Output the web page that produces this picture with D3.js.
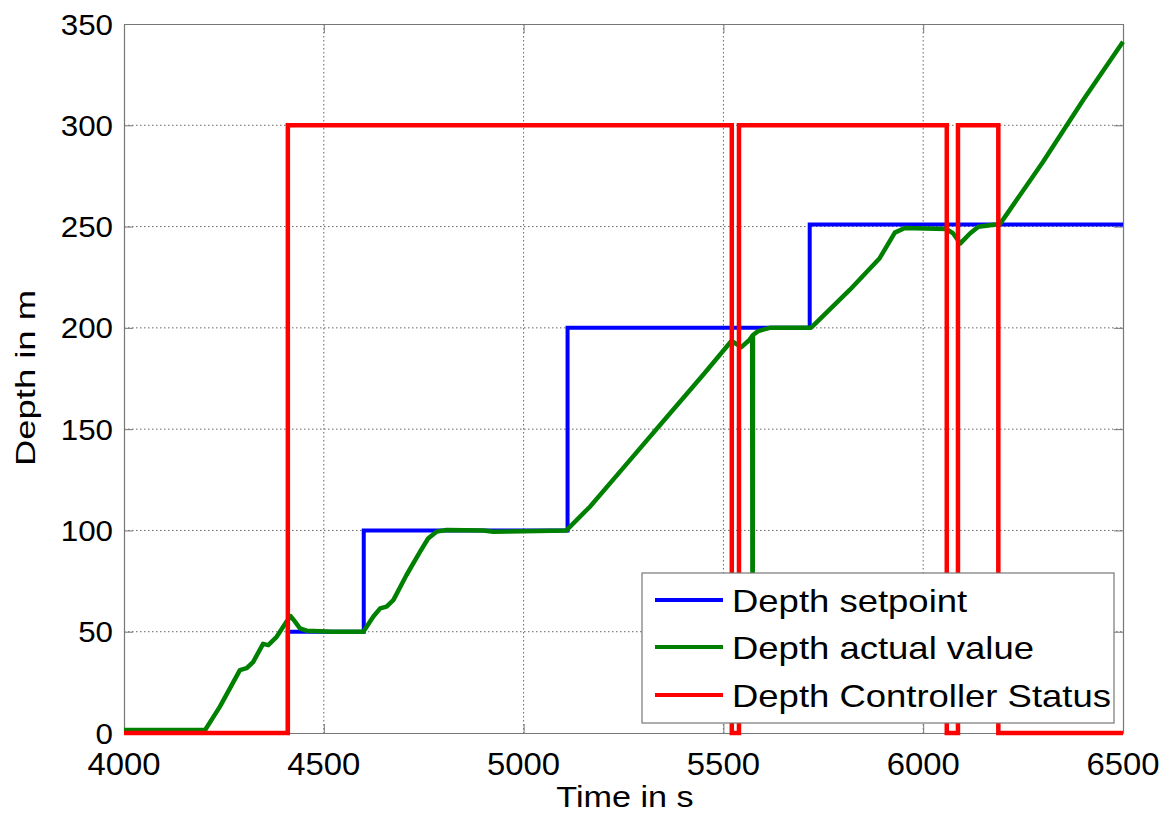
<!DOCTYPE html>
<html>
<head>
<meta charset="utf-8">
<script src="https://cdn.jsdelivr.net/npm/d3@7"></script>
<style>
  body { margin: 0; background: #fff; }
  text { font-family: "Liberation Sans", Arial, sans-serif; fill: #000; }
</style>
</head>
<body>
<svg id="chart" width="1172" height="814"></svg>
<script>
// Axis ticks
const xTicks = [4000, 4500, 5000, 5500, 6000, 6500];
const yTicks = [0, 50, 100, 150, 200, 250, 300, 350];

// Depth setpoint (step signal)
const setpointTime  = [4000, 4410, 4600, 5110, 5716, 6500];
const setpointDepth = [0, 50, 100, 200, 251, 251];

// Depth actual value
const actualTime  = [4000, 4203, 4240, 4290, 4307, 4323, 4348, 4361, 4382, 4407, 4417, 4428, 4440, 4457, 4520, 4560, 4599,
                     4624, 4641, 4657, 4674, 4707, 4741, 4761, 4782, 4807, 4900, 4924, 4960, 5107, 5166, 5250, 5350, 5450,
                     5520, 5529, 5545, 5565, 5572, 5573, 5574, 5587, 5616, 5716, 5721, 5816, 5891, 5929, 5954, 6058,
                     6075, 6093, 6117, 6138, 6167, 6192, 6300, 6400, 6500];
const actualDepth = [1.5, 1.5, 13, 31, 32, 35, 44, 43.4, 47.5, 55, 57.7, 55, 51.7, 50.5, 50, 50, 50,
                     57.5, 61.5, 62.4, 65.6, 78, 89.5, 96, 99.4, 100.2, 100, 99.4, 99.5, 100, 111.7, 131, 154, 177,
                     193.5, 192.5, 190.5, 194, 196, 10, 196.5, 198.4, 200, 200, 200.4, 218.7, 234.4, 247, 249.3, 248.8,
                     246.6, 241.7, 246.6, 249.9, 250.7, 251.2, 282, 312.4, 341.2];

// Depth controller status (on = 300, off = 0)
const statusTime  = [4000, 4410, 5521, 5539, 6059, 6087, 6188, 6500];
const statusValue = [0, 300, 0, 300, 0, 300, 0, 0];

const seriesNames = ["Depth setpoint", "Depth actual value", "Depth Controller Status"];
const seriesColors = ["#0000ff", "#008000", "#ff0000"];

const svg = d3.select("#chart");
const plot = { left: 124, right: 1123, top: 24, bottom: 733 };

const x = d3.scaleLinear().domain([4000, 6500]).range([plot.left, plot.right]);
const y = d3.scaleLinear().domain([0, 350]).range([plot.bottom, plot.top]);

svg.append("defs").append("clipPath").attr("id", "plotClip")
  .append("rect")
  .attr("x", plot.left).attr("y", plot.top - 3)
  .attr("width", plot.right - plot.left + 3).attr("height", plot.bottom - plot.top + 6);

// Grid
const grid = svg.append("g");
grid.selectAll(".gx").data(xTicks.slice(1, -1)).join("line")
  .attr("x1", d => x(d)).attr("x2", d => x(d))
  .attr("y1", plot.top).attr("y2", plot.bottom)
  .attr("stroke", "#555").attr("stroke-width", 0.9).attr("stroke-dasharray", "1.5,2.5");
grid.selectAll(".gy").data(yTicks.slice(1, -1)).join("line")
  .attr("y1", d => y(d)).attr("y2", d => y(d))
  .attr("x1", plot.left).attr("x2", plot.right)
  .attr("stroke", "#555").attr("stroke-width", 0.9).attr("stroke-dasharray", "1.5,2.5");

// Axes (inward ticks on all four sides)
const tickLen = 9;
const axisColor = "#777";
const xb = svg.append("g").attr("transform", `translate(0,${plot.bottom})`)
  .call(d3.axisBottom(x).tickValues(xTicks).tickSizeInner(-tickLen).tickSizeOuter(0).tickFormat(""));
const xt = svg.append("g").attr("transform", `translate(0,${plot.top})`)
  .call(d3.axisTop(x).tickValues(xTicks).tickSizeInner(-tickLen).tickSizeOuter(0).tickFormat(""));
const yl = svg.append("g").attr("transform", `translate(${plot.left},0)`)
  .call(d3.axisLeft(y).tickValues(yTicks).tickSizeInner(-tickLen).tickSizeOuter(0).tickFormat(""));
const yr = svg.append("g").attr("transform", `translate(${plot.right},0)`)
  .call(d3.axisRight(y).tickValues(yTicks).tickSizeInner(-tickLen).tickSizeOuter(0).tickFormat(""));
[xb, xt, yl, yr].forEach(g => {
  g.selectAll("path").attr("stroke", axisColor).attr("stroke-width", 1.2);
  g.selectAll("line").attr("stroke", axisColor).attr("stroke-width", 1);
});

// Tick labels
svg.append("g").selectAll("text").data(xTicks).join("text")
  .attr("transform", d => `translate(${x(d)},775) scale(1.06,1)`)
  .attr("text-anchor", "middle")
  .attr("font-size", 31)
  .text(d => d);
svg.append("g").selectAll("text").data(yTicks).join("text")
  .attr("transform", d => `translate(113,${y(d) + 10.5}) scale(1.08,1)`)
  .attr("text-anchor", "end")
  .attr("font-size", 29)
  .text(d => d);

// Axis titles
svg.append("text")
  .attr("transform", "translate(625,807) scale(1.14,1)")
  .attr("text-anchor", "middle")
  .attr("font-size", 30)
  .text("Time in s");
svg.append("text")
  .attr("transform", "translate(35,378) rotate(-90) scale(1.3,1)")
  .attr("text-anchor", "middle")
  .attr("font-size", 28)
  .text("Depth in m");

// Data lines
const lines = svg.append("g").attr("clip-path", "url(#plotClip)");
const stepLine = d3.line().x(d => x(d[0])).y(d => y(d[1])).curve(d3.curveStepAfter);
const linLine = d3.line().x(d => x(d[0])).y(d => y(d[1]));

lines.append("path")
  .datum(d3.zip(setpointTime, setpointDepth))
  .attr("d", stepLine)
  .attr("fill", "none").attr("stroke", seriesColors[0]).attr("stroke-width", 4);
lines.append("path")
  .datum(d3.zip(actualTime, actualDepth))
  .attr("d", linLine)
  .attr("fill", "none").attr("stroke", seriesColors[1]).attr("stroke-width", 4.5)
  .attr("stroke-linejoin", "round");
lines.append("path")
  .datum(d3.zip(statusTime, statusValue))
  .attr("d", stepLine)
  .attr("fill", "none").attr("stroke", seriesColors[2]).attr("stroke-width", 4.5);

// Legend
const lg = svg.append("g");
lg.append("rect")
  .attr("x", 642).attr("y", 573).attr("width", 472).attr("height", 150)
  .attr("fill", "#fff").attr("stroke", "#777").attr("stroke-width", 1.2);
const rowY = [600, 647, 695];
seriesNames.forEach((name, i) => {
  lg.append("line")
    .attr("x1", 655).attr("x2", 723).attr("y1", rowY[i]).attr("y2", rowY[i])
    .attr("stroke", seriesColors[i]).attr("stroke-width", 4);
  lg.append("text")
    .attr("transform", `translate(732,${rowY[i] + 11.5}) scale(1.14,1)`)
    .attr("font-size", 32)
    .text(name);
});
</script>
</body>
</html>
